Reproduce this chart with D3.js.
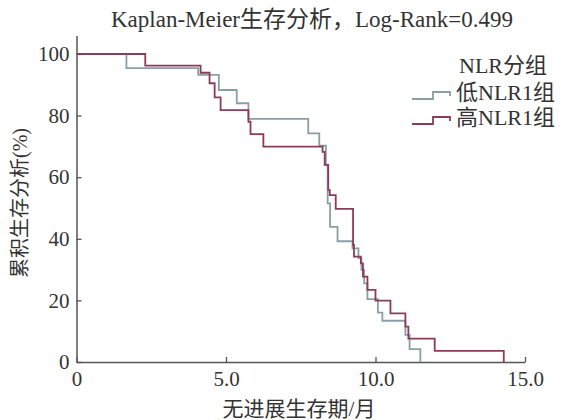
<!DOCTYPE html>
<html><head><meta charset="utf-8">
<script src="https://cdn.jsdelivr.net/npm/d3@7"></script>
<style>
html,body{margin:0;padding:0;background:#fff;}
svg text{font-family:"Liberation Serif","Noto Sans CJK SC",serif;fill:#333;}
</style></head>
<body><svg id="c" width="561" height="420"></svg>
<script>
const titleText = "Kaplan-Meier生存分析，Log-Rank=0.499";
const xLabel = "无进展生存期/月";
const yLabel = "累积生存分析(%)";
const legendTitle = "NLR分组";
const seriesNames = ["低NLR1组", "高NLR1组"];
const xTicks = [0, 5, 10, 15];
const xTickLabels = ["0", "5.0", "10.0", "15.0"];
const yTicks = [0, 20, 40, 60, 80, 100];

const lowTimes = [0, 1.67, 4.07, 4.76, 5.36, 5.75, 7.75, 8.12, 8.34, 8.40, 8.48, 8.73, 9.23, 9.43, 9.53, 9.62, 9.73, 10.08, 10.23, 11.0, 11.14, 11.5];
const lowSurv  = [100, 95.4, 93.2, 88.3, 84.0, 78.9, 74.2, 70.2, 64.0, 51.5, 43.9, 39.2, 36.9, 33.7, 29.9, 25.5, 20.4, 16.0, 13.4, 8.8, 4.2, 0];

const highTimes = [0, 2.3, 4.15, 4.45, 4.62, 4.82, 5.75, 5.82, 6.25, 8.23, 8.30, 8.42, 8.47, 8.67, 9.25, 9.28, 9.51, 9.58, 9.73, 10.0, 10.5, 11.0, 11.1, 11.98, 14.29];
const highSurv  = [100, 96.2, 93.9, 90.5, 85.9, 81.8, 78.0, 74.0, 69.9, 68.2, 64.0, 55.8, 54.2, 49.7, 38.0, 34.2, 32.0, 27.7, 23.4, 19.9, 15.8, 11.5, 7.6, 3.6, 0];

const colors = ["#8a9ea6", "#8c3b5a"];

const svg = d3.select("#c");
const x = d3.scaleLinear().domain([0, 15]).range([76.5, 525]);
const y = d3.scaleLinear().domain([0, 106]).range([362, 35.5]);

// axes
const xAxis = d3.axisBottom(x).tickValues(xTicks).tickFormat((d,i)=>xTickLabels[i])
  .tickSizeInner(-5).tickSizeOuter(0).tickPadding(8);
const gx = svg.append("g").attr("transform","translate(0,362)").call(xAxis);
gx.select(".domain").attr("stroke","#555").attr("stroke-width",1.5);
gx.selectAll(".tick line").attr("stroke","#555").attr("stroke-width",1.3);
gx.selectAll(".tick text").attr("font-size",21).attr("dy","0.75em");

const yAxis = d3.axisLeft(y).tickValues(yTicks).tickSizeInner(-5).tickSizeOuter(0).tickPadding(7);
const gy = svg.append("g").attr("transform","translate(76.5,0)").call(yAxis);
gy.select(".domain").attr("stroke","#555").attr("stroke-width",1.5);
gy.selectAll(".tick line").attr("stroke","#555").attr("stroke-width",1.3);
gy.selectAll(".tick text").attr("font-size",21);

// curves
const line = d3.line().x(d=>x(d[0])).y(d=>y(d[1])).curve(d3.curveStepAfter);
const series = [
  lowTimes.map((t,i)=>[t, lowSurv[i]]),
  highTimes.map((t,i)=>[t, highSurv[i]])
];
series.forEach((s,i)=>{
  svg.append("path").datum(s).attr("d", line).attr("fill","none")
    .attr("stroke", colors[i]).attr("stroke-width",1.8);
});

// title
svg.append("text").attr("x",312).attr("y",27).attr("text-anchor","middle")
  .attr("font-size",23).text(titleText);
// axis titles
svg.append("text").attr("x",299).attr("y",416).attr("text-anchor","middle")
  .attr("font-size",21).text(xLabel);
svg.append("text").attr("transform","translate(27,203) rotate(-90)").attr("text-anchor","middle")
  .attr("font-size",20).text(yLabel);

// legend
svg.append("text").attr("x",459).attr("y",73).attr("font-size",22).text(legendTitle);
seriesNames.forEach((n,i)=>{
  const yy = 99 + i*25;
  const x0 = 412, x1 = 433, x2 = 450;
  svg.append("path").attr("d",`M${x0},${yy} H${x1} V${yy-7} H${x2} V${yy-3}`)
    .attr("fill","none").attr("stroke",colors[i]).attr("stroke-width",1.8);
  svg.append("text").attr("x",456).attr("y",yy+1).attr("font-size",22).text(n);
});
</script></body></html>
